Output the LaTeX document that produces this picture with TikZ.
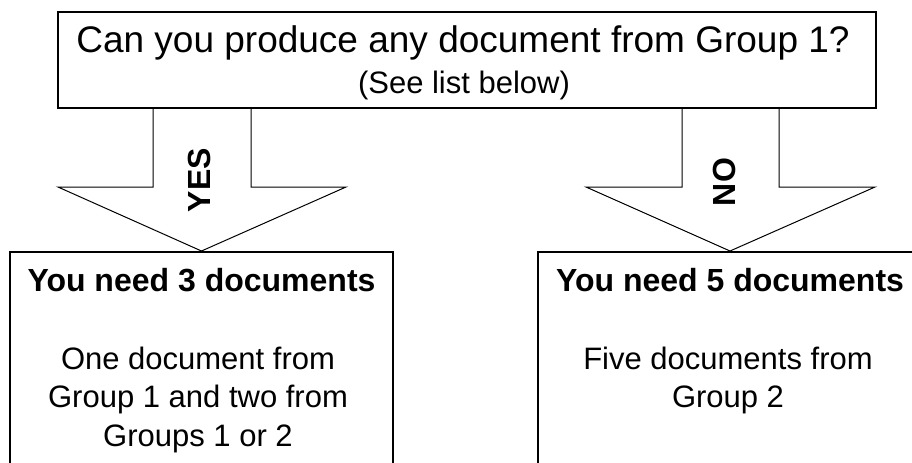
\documentclass[tikz,border=0pt]{standalone}
\usepackage{fontspec}
\setmainfont{Liberation Sans}
\newcommand{\bigfont}{\fontsize{27.75}{33}\selectfont}
\newcommand{\midfont}{\fontsize{23.25}{28}\selectfont}
\newcommand{\boldfont}{\fontsize{24}{29}\selectfont\bfseries}
\tikzset{
	box/.style={draw, line width=1.5pt, inner sep=0pt},
	blockarrow/.style={draw, line width=0.75pt, line join=miter},
	txt/.style={inner sep=0pt, anchor=base},
	sidetxt/.style={inner sep=0pt, rotate=90, font=\boldfont}
}
\begin{document}
\begin{tikzpicture}[x=0.75pt, y=-0.75pt]
	\path[use as bounding box, clip] (0,0) rectangle (912,462);
	% question
	\node[box, minimum width=613.5pt, minimum height=72pt] (q) at (467,60) {};
	\node[txt] (qline1) at (463,52) {\bigfont Can you produce any document from Group 1?};
	\node[txt] (qline2) at (464,93) {\midfont (See list below)};
	% answers
	\node[box, minimum width=287.25pt, minimum height=171pt] (yesbox) at (201.5,366) {};
	\node[box, minimum width=288pt, minimum height=171pt] (nobox) at (730,366) {};
	\node[txt, font=\boldfont] (yeshead) at (201.5,291) {You need 3 documents};
	\node[txt, font=\midfont] (yesline1) at (198,369) {One document from};
	\node[txt, font=\midfont] (yesline2) at (198,407) {Group 1 and two from};
	\node[txt, font=\midfont] (yesline3) at (198,446) {Groups 1 or 2};
	\node[txt, font=\boldfont] (nohead) at (730,291) {You need 5 documents};
	\node[txt, font=\midfont] (noline1) at (728,369) {Five documents from};
	\node[txt, font=\midfont] (noline2) at (728,407) {Group 2};
	% arrows
	\draw[blockarrow] (q.south -| 153,0) -- (153,187) -- (58,187) -- (yesbox.north)
		-- (346,187) -- (251,187) -- (q.south -| 251,0);
	\draw[blockarrow] (q.south -| 682,0) -- (682,187) -- (586,187) -- (nobox.north)
		-- (875,187) -- (779,187) -- (q.south -| 779,0);
	\node[sidetxt] (yes) at (199,180) {YES};
	\node[sidetxt] (no) at (724,182) {NO};
\end{tikzpicture}
\end{document}
